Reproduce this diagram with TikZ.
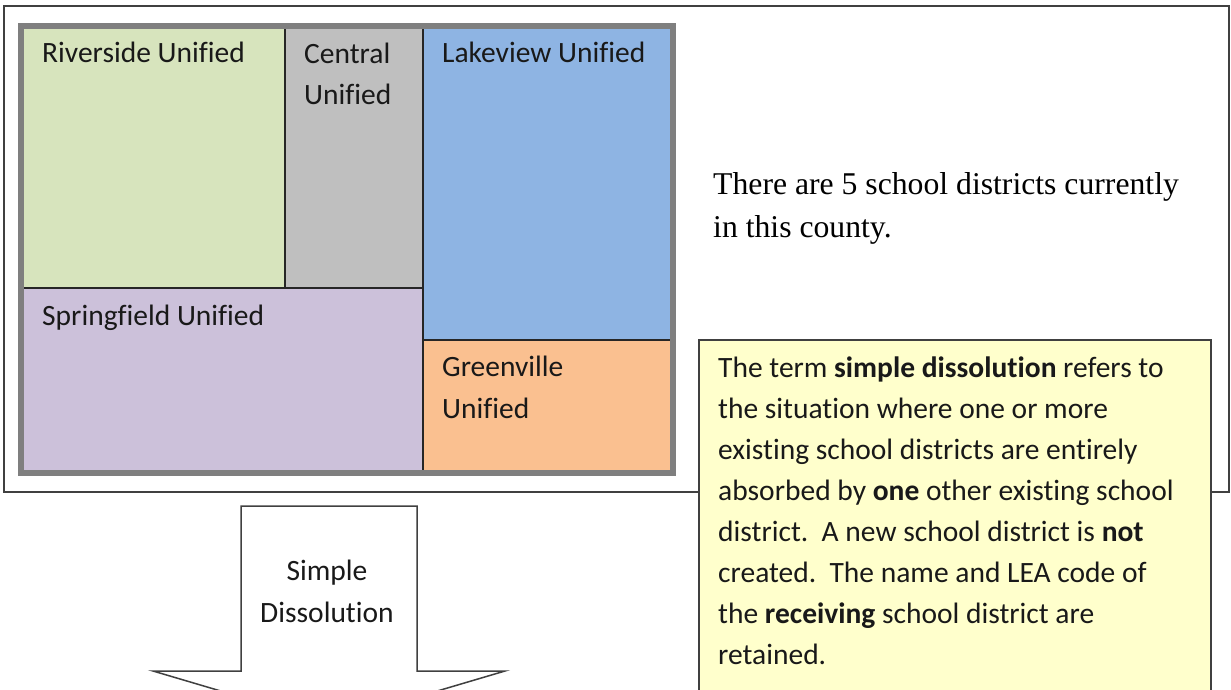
\documentclass[tikz,border=0pt]{standalone}
\usepackage{fontspec}
\setmainfont{Carlito}[Ligatures = NoCommon]
\newfontfamily\timesfont{Liberation Serif}
\usetikzlibrary{positioning}
\definecolor{riverside}{HTML}{D7E4BD}
\definecolor{central}{HTML}{BFBFBF}
\definecolor{lakeview}{HTML}{8EB4E3}
\definecolor{springfield}{HTML}{CCC1DA}
\definecolor{greenville}{HTML}{FAC090}
\definecolor{notefill}{HTML}{FFFFCC}
\definecolor{framegray}{HTML}{7F7F7F}
\tikzset{
    frame line/.style = {draw = black!75, line width = 1.5},
    divider/.style = {draw = black!85, line width = 1.5},
    district name/.style = {anchor = base west, inner sep = 0, align = left, text = black!90, font = \fontsize{29.5}{41.5}\selectfont},
}

\begin{document}
\begin{tikzpicture}[x = 1pt, y = -1pt]
    \useasboundingbox (0,0) rectangle (1231,690);
    \clip (0,0) rectangle (1231,690);
    % county frame
    \draw [frame line, fill = white] (4,6) rectangle (1229,492);
    % districts
    \fill [riverside] (22,29) rectangle (285,288);
    \fill [central] (285,29) rectangle (423,288);
    \fill [lakeview] (423,29) rectangle (671,340);
    \fill [springfield] (22,288) rectangle (423,471);
    \fill [greenville] (423,340) rectangle (671,471);
    \draw [divider] (285,29) -- (285,288);
    \draw [divider] (22,288) -- (423,288);
    \draw [divider] (423,29) -- (423,471);
    \draw [divider] (423,340) -- (671,340);
    \draw [color = framegray, line width = 6] (20.5,26) rectangle (673,473);
    % base of a two-line name is the base of its last line
    \node [district name] (riverside name) at (42,63) {Riverside Unified};
    \node [district name] (central name) at (304,105) {Central\\Unified};
    \node [district name] (lakeview name) at (442,63) {Lakeview Unified};
    \node [district name] (springfield name) at (42,325) {Springfield Unified};
    \node [district name] (greenville name) at (442,418) {Greenville\\Unified};
    % county text
    \node [anchor = base west, inner sep = 0, align = left, font = \timesfont\fontsize{31.7}{43}\selectfont] (county text) at (713,237) {There are 5 school districts currently\\in this county.};
    % definition box
    \draw [frame line, fill = notefill] (699,340) rectangle (1211,720);
    \node [district name, font = \fontsize{29.5}{41}\selectfont] (definition) at (718,664) {The term \textbf{simple dissolution} refers to\\the situation where one or more\\existing school districts are entirely\\absorbed by \textbf{one} other existing school\\district.~~A new school district is \textbf{not}\\created.~~The name and LEA code of\\the \textbf{receiving} school district are\\retained.};
    % block arrow
    \draw [frame line, fill = white] (241,506) -- (417,506) -- (417,671) -- (505,671) -- (329,723) -- (153,671) -- (241,671) -- cycle;
    \node [district name, anchor = base, align = center] (dissolution) at (327,622) {Simple\\Dissolution};
\end{tikzpicture}
\end{document}
